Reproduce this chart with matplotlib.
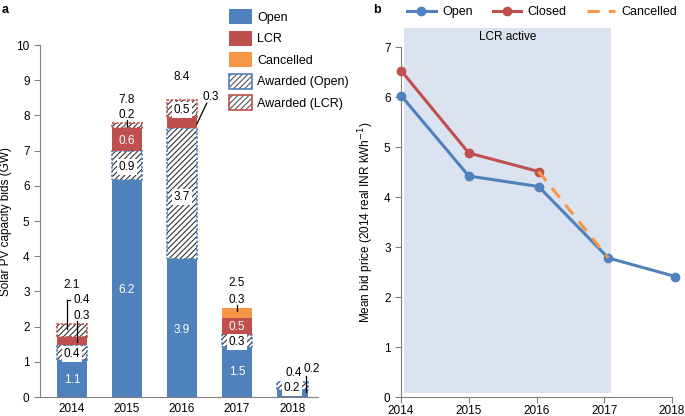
import matplotlib
matplotlib.use("Agg")
import matplotlib.pyplot as plt
from matplotlib.patches import Patch
from matplotlib.legend_handler import HandlerTuple
import numpy as np

plt.rcParams['font.family'] = ['Liberation Sans', 'DejaVu Sans']
plt.rcParams['hatch.linewidth'] = 0.8

# ---------------- data: panel a ----------------
years = ["2014", "2015", "2016", "2017", "2018"]
open_gw = [1.05, 6.16, 3.92, 1.42, 0.21]
awarded_open_gw = [0.43, 0.84, 3.72, 0.34, 0.21]
lcr_gw = [0.22, 0.64, 0.31, 0.48, 0.0]
awarded_lcr_gw = [0.37, 0.14, 0.49, 0.0, 0.0]
cancelled_gw = [0.0, 0.0, 0.0, 0.29, 0.0]
totals_text = ["2.1", "7.8", "8.4", "2.5", "0.4"]

# ---------------- data: panel b ----------------
open_years = [2014.0, 2015.0, 2016.03, 2017.06, 2018.05]
open_price = [6.03, 4.42, 4.21, 2.78, 2.41]
closed_years = [2014.0, 2015.0, 2016.03]
closed_price = [6.53, 4.88, 4.51]
cancel_years = [2016.03, 2017.06]
cancel_price = [4.51, 2.78]
lcr_active = (2014.04, 2017.1)

BLUE = "#4f81bd"
RED = "#c0504d"
ORANGE = "#f79646"
HATCHC = "#333333"
GREY = "#808080"
FS = 8.5

fig = plt.figure(figsize=(6.85, 4.16), dpi=100)
ax = fig.add_axes([40/685, 19/416, 278/685, 352/416])
bx = fig.add_axes([401/685, 19/416, 271/685, 350/416])

x = np.arange(len(years))
w = 0.56

def hatched(ax, xs, h, b, border):
    ax.bar(xs, h, w, bottom=b, color="white", edgecolor=HATCHC, hatch="//////", linewidth=0)
    ax.bar(xs, h, w, bottom=b, fill=False, edgecolor=border, linewidth=1.2, linestyle=(0, (1.5, 1.0)))

b = np.zeros(len(years))
ax.bar(x, open_gw, w, bottom=b, color=BLUE, linewidth=0)
b += open_gw
hatched(ax, x, awarded_open_gw, b, BLUE)
b += awarded_open_gw
ax.bar(x, lcr_gw, w, bottom=b, color=RED, linewidth=0)
b += lcr_gw
hatched(ax, x[:3], awarded_lcr_gw[:3], b[:3], RED)
b += awarded_lcr_gw
ax.bar(x, cancelled_gw, w, bottom=b, color=ORANGE, linewidth=0)
b += cancelled_gw

ax.set_xlim(-0.58, 4.47)
ax.set_ylim(0, 10)
ax.set_yticks(range(0, 11))
ax.set_xticks(x)
ax.set_xticklabels(years, fontsize=FS)
ax.tick_params(axis='x', length=0, pad=4)
ax.tick_params(axis='y', labelsize=FS, length=4, color=GREY, width=0.8)
for s in ["top", "right"]:
    ax.spines[s].set_visible(False)
for s in ["left", "bottom"]:
    ax.spines[s].set_color(GREY)
    ax.spines[s].set_linewidth(0.8)
ax.set_ylabel("Solar PV capacity bids (GW)", fontsize=FS, labelpad=3)

boxkw = dict(boxstyle="square,pad=0.15", fc="white", ec="none")
def lab(xp, yp, s, color="black", box=False, ha="center"):
    ax.text(xp, yp, s, fontsize=FS, color=color, ha=ha, va="center",
            bbox=boxkw if box else None, zorder=5)

# inside labels
lab(0, 0.48, "1.1", "white"); lab(0, 1.22, "0.4", box=True)
lab(1, 3.04, "6.2", "white"); lab(1, 6.53, "0.9", box=True); lab(1, 7.28, "0.6", "white")
lab(2, 1.9, "3.9", "white"); lab(2, 5.68, "3.7", box=True); lab(2, 8.15, "0.5", box=True)
lab(3, 0.71, "1.5", "white"); lab(3, 1.57, "0.3", box=True); lab(3, 2.0, "0.5", "white")
lab(4, 0.25, "0.2", box=True)
# totals
lab(0, 3.18, totals_text[0]); lab(1, 8.44, totals_text[1]); lab(2, 9.09, totals_text[2])
lab(3, 3.24, totals_text[3]); lab(4.03, 0.68, totals_text[4])
# outside labels + leaders
lab(0.18, 2.76, "0.4"); lab(0.18, 2.3, "0.3")
ax.plot([-0.09, -0.09], [2.76, 1.93], color="black", lw=0.9, zorder=6)
ax.plot([-0.09, -0.03], [2.76, 2.76], color="black", lw=0.9, zorder=6)
ax.plot([0.09, 0.09], [2.15, 1.56], color="black", lw=0.9, zorder=6)
lab(1, 8.0, "0.2")
ax.plot([1, 1], [7.88, 7.7], color="black", lw=0.9, zorder=6)
lab(2.52, 8.52, "0.3")
ax.plot([2.45, 2.27], [8.35, 7.76], color="black", lw=0.9, zorder=6)
lab(3, 2.76, "0.3")
ax.plot([3, 3], [2.62, 2.43], color="black", lw=0.9, zorder=6)
lab(4.36, 0.8, "0.2")
ax.plot([4.26, 4.26], [0.6, 0.14], color="black", lw=0.9, zorder=6)

def hatch_handle(border):
    return (Patch(facecolor="white", edgecolor="#555555", hatch="//////", linewidth=0),
            Patch(fill=False, edgecolor=border, linewidth=1.2))

handles = [
    Patch(facecolor=BLUE, edgecolor="none"),
    Patch(facecolor=RED, edgecolor="none"),
    Patch(facecolor=ORANGE, edgecolor="none"),
    hatch_handle(BLUE),
    hatch_handle(RED),
]
leg_labels = ["Open", "LCR", "Cancelled", "Awarded (Open)", "Awarded (LCR)"]
fig.legend(handles, leg_labels, loc="upper left", bbox_to_anchor=(229/685, 1-9/416),
           frameon=False, fontsize=9, handlelength=1.85, handleheight=1.5,
           labelspacing=0.5, handletextpad=0.4, borderpad=0, borderaxespad=0,
           handler_map={tuple: HandlerTuple(ndivide=1, pad=0)})

# ---------------- panel b ----------------
bx.axvspan(lcr_active[0], lcr_active[1], ymin=0.08/7, ymax=7.38/7, color="#dae3ef",
           lw=0, clip_on=False, zorder=0)
bx.text((lcr_active[0] + lcr_active[1]) / 2, 7.2, "LCR active", fontsize=FS, ha="center", va="center")
bx.plot(open_years, open_price, color=BLUE, lw=2.2, marker="o", ms=6, label="Open", zorder=3, clip_on=False)
bx.plot(closed_years, closed_price, color=RED, lw=2.2, marker="o", ms=6, label="Closed", zorder=3, clip_on=False)
bx.plot(cancel_years, cancel_price, color=ORANGE, lw=2.2, ls=(0, (4, 3)), label="Cancelled", zorder=4)
bx.set_xlim(2014, 2018)
bx.set_ylim(0, 7)
bx.set_xticks([2014, 2015, 2016, 2017, 2018])
bx.set_yticks(range(0, 8))
bx.tick_params(labelsize=FS, length=4, color=GREY, width=0.8)
bx.tick_params(axis='x', pad=2)
for s in ["top", "right"]:
    bx.spines[s].set_visible(False)
for s in ["left", "bottom"]:
    bx.spines[s].set_color(GREY)
    bx.spines[s].set_linewidth(0.8)
bx.set_ylabel("Mean bid price (2014 real INR kWh$^{-1}$)", fontsize=FS, labelpad=6)
fig.legend(*bx.get_legend_handles_labels(), loc="upper left", bbox_to_anchor=(407/685, 1-6/416),
           ncol=3, frameon=False, fontsize=9, handlelength=2.3, handletextpad=0.5,
           columnspacing=1.6, borderpad=0, borderaxespad=0)

fig.text(2/685, 1-10/416, "a", fontsize=9, fontweight="bold", va="center")
fig.text(373/685, 1-10/416, "b", fontsize=9, fontweight="bold", va="center")

fig.savefig("out.png", dpi=100)
